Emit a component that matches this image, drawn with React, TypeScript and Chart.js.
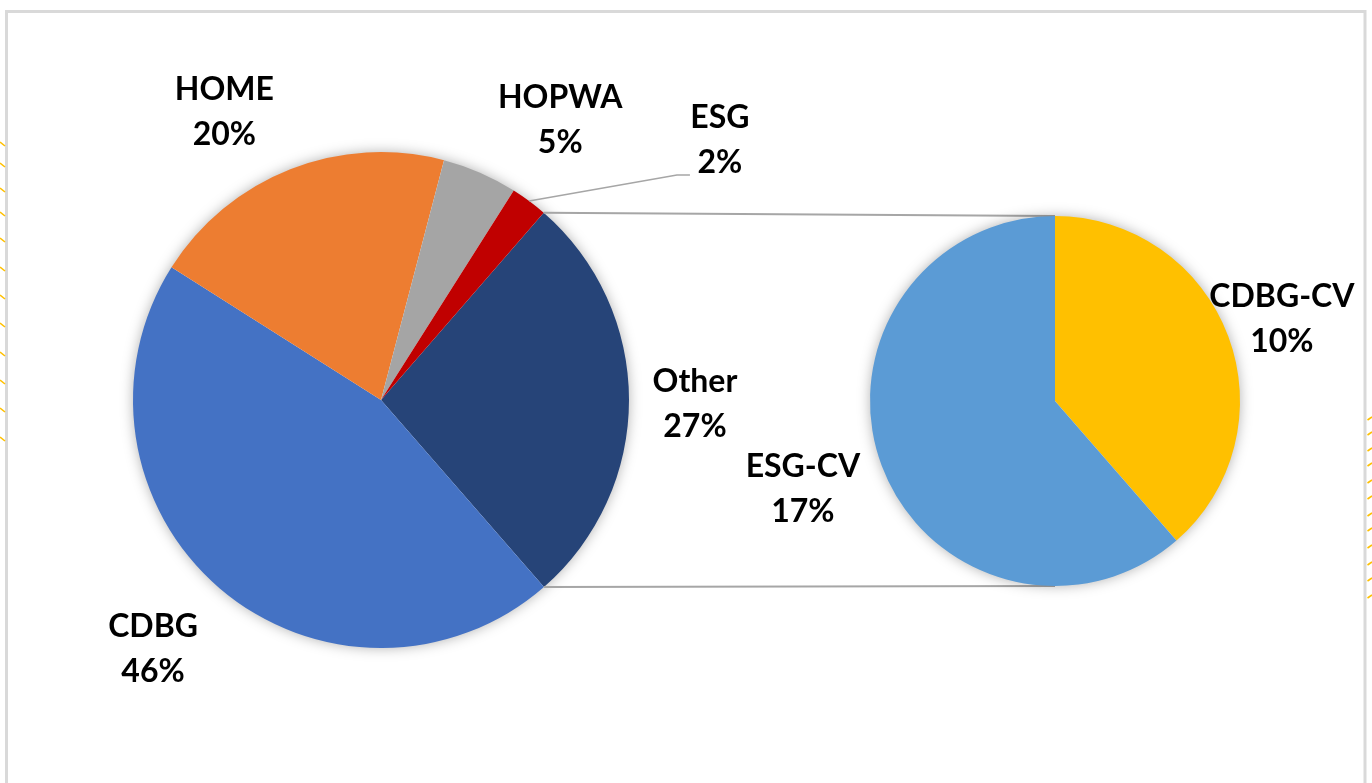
import React, { useEffect, useRef } from "react";
import { Chart, registerables } from "chart.js";

Chart.register(...registerables);

// ---- data ----
const mainCategories = ["Other", "CDBG", "HOME", "HOPWA", "ESG"];
const mainValues = [27.2, 45.4, 20.1, 4.9, 2.4];
const mainPercentLabels = ["27%", "46%", "20%", "5%", "2%"];
const mainColors = ["#264478", "#4472C4", "#ED7D31", "#A5A5A5", "#C00000"];

const subCategories = ["CDBG-CV", "ESG-CV"];
const subValues = [10.5, 16.7];
const subPercentLabels = ["10%", "17%"];
const subColors = ["#FFC000", "#5B9BD5"];

// label placement: angle (deg, from 12 o'clock clockwise) and distance (in radii)
const mainLabelAngles = [90.5, 222.6, 331.5, 32.5, 52.4];
const mainLabelDist = [1.266, 1.358, 1.324, 1.345, 1.725];
const subLabelAngles = [69.9, 250.9];
const subLabelDist = [1.306, 1.442];

// decoration tick marks at page edges
const leftMarkYs = [142, 163, 188, 212, 238, 267, 295, 323, 352, 380, 408, 437];
const rightMarkYs = [417, 432, 448, 463, 480, 496, 513, 528, 545, 562, 578, 595];

const W = 1372;
const H = 783;
const FONT = "bold 32px Lato, 'Open Sans', sans-serif";
const LINE_GAP = 45;

function pieGeom(chart: any) {
  const arc = chart.getDatasetMeta(0).data[0] as any;
  return { cx: arc.x, cy: arc.y, r: arc.outerRadius };
}

function labelPos(chart: any, angle: number, dist: number) {
  const { cx, cy, r } = pieGeom(chart);
  const a = (angle * Math.PI) / 180;
  return { x: cx + dist * r * Math.sin(a), y: cy - dist * r * Math.cos(a) };
}

function drawLabels(chart: any, names: string[], pcts: string[], angles: number[], dists: number[]) {
  const ctx = chart.ctx as CanvasRenderingContext2D;
  ctx.save();
  ctx.font = FONT;
  ctx.fillStyle = "#000000";
  ctx.textAlign = "center";
  ctx.textBaseline = "alphabetic";
  names.forEach((n, i) => {
    const p = labelPos(chart, angles[i], dists[i]);
    // baseline placed so caps are centred on the line position
    ctx.fillText(n, p.x, p.y - LINE_GAP / 2 + 11.5);
    ctx.fillText(pcts[i], p.x, p.y + LINE_GAP / 2 + 11.5);
  });
  ctx.restore();
}

function drawShadow(chart: any) {
  const ctx = chart.ctx as CanvasRenderingContext2D;
  const { cx, cy, r } = pieGeom(chart);
  ctx.save();
  ctx.shadowColor = "rgba(0,0,0,0.35)";
  ctx.shadowBlur = 14;
  ctx.shadowOffsetX = 0;
  ctx.shadowOffsetY = 0;
  ctx.fillStyle = "#ffffff";
  ctx.beginPath();
  ctx.arc(cx, cy, r - 1, 0, Math.PI * 2);
  ctx.fill();
  ctx.restore();
}

export default function App() {
  const leftRef = useRef<HTMLCanvasElement | null>(null);
  const rightRef = useRef<HTMLCanvasElement | null>(null);

  useEffect(() => {
    document.body.style.margin = "0";
    const leftCanvas = leftRef.current!;
    const rightCanvas = rightRef.current!;

    const framePlugin = {
      id: "frame",
      beforeDraw(chart: any) {
        const ctx = chart.ctx as CanvasRenderingContext2D;
        ctx.save();
        ctx.fillStyle = "#ffffff";
        ctx.fillRect(0, 0, W, H);
        ctx.strokeStyle = "#d9d9d9";
        ctx.lineWidth = 3;
        ctx.strokeRect(6.5, 11.5, 1358.5, 900);
        ctx.strokeStyle = "#FFC000";
        ctx.lineWidth = 1.6;
        leftMarkYs.forEach((y) => {
          ctx.beginPath();
          ctx.moveTo(0, y);
          ctx.lineTo(5, y + 4);
          ctx.stroke();
        });
        rightMarkYs.forEach((y) => {
          ctx.beginPath();
          ctx.moveTo(1367.5, y + 3);
          ctx.lineTo(1372, y);
          ctx.stroke();
        });
        ctx.restore();
      },
      beforeDatasetsDraw(chart: any) {
        drawShadow(chart);
      },
      afterDatasetsDraw(chart: any) {
        drawLabels(chart, mainCategories, mainPercentLabels, mainLabelAngles, mainLabelDist);
        // leader line for ESG
        const ctx = chart.ctx as CanvasRenderingContext2D;
        const idx = mainCategories.indexOf("ESG");
        const arc = chart.getDatasetMeta(0).data[idx] as any;
        const mid = (arc.startAngle + arc.endAngle) / 2;
        const px = arc.x + arc.outerRadius * Math.cos(mid);
        const py = arc.y + arc.outerRadius * Math.sin(mid);
        const lp = labelPos(chart, mainLabelAngles[idx], mainLabelDist[idx]);
        ctx.save();
        ctx.strokeStyle = "#a6a6a6";
        ctx.lineWidth = 1.5;
        ctx.beginPath();
        ctx.moveTo(lp.x - 30, lp.y + 36);
        ctx.lineTo(lp.x - 43, lp.y + 36);
        ctx.lineTo(px, py);
        ctx.stroke();
        ctx.restore();
      },
    };

    const leftChart = new Chart(leftCanvas, {
      type: "pie",
      data: {
        labels: mainCategories,
        datasets: [
          {
            data: mainValues,
            backgroundColor: mainColors,
            borderWidth: 0,
            borderColor: "rgba(0,0,0,0)",
          },
        ],
      },
      options: {
        responsive: false,
        animation: false,
        rotation: 41.0,
        layout: { padding: { left: 133, top: 152, right: 743, bottom: 135 } },
        plugins: { legend: { display: false }, tooltip: { enabled: false } },
      },
      plugins: [framePlugin],
    } as any);

    const connectorPlugin = {
      id: "connector",
      beforeDatasetsDraw(chart: any) {
        const ctx = chart.ctx as CanvasRenderingContext2D;
        const otherArc = leftChart.getDatasetMeta(0).data[0] as any;
        const p1x = otherArc.x + otherArc.outerRadius * Math.cos(otherArc.startAngle);
        const p1y = otherArc.y + otherArc.outerRadius * Math.sin(otherArc.startAngle);
        const p2x = otherArc.x + otherArc.outerRadius * Math.cos(otherArc.endAngle);
        const p2y = otherArc.y + otherArc.outerRadius * Math.sin(otherArc.endAngle);
        const { cx, cy, r } = pieGeom(chart);
        ctx.save();
        ctx.strokeStyle = "#a6a6a6";
        ctx.lineWidth = 2;
        ctx.beginPath();
        ctx.moveTo(p1x, p1y);
        ctx.lineTo(cx, cy - r);
        ctx.moveTo(p2x, p2y);
        ctx.lineTo(cx, cy + r);
        ctx.stroke();
        ctx.restore();
        drawShadow(chart);
      },
      afterDatasetsDraw(chart: any) {
        drawLabels(chart, subCategories, subPercentLabels, subLabelAngles, subLabelDist);
      },
    };

    const rightChart = new Chart(rightCanvas, {
      type: "pie",
      data: {
        labels: subCategories,
        datasets: [
          {
            data: subValues,
            backgroundColor: subColors,
            borderWidth: 0,
            borderColor: "rgba(0,0,0,0)",
          },
        ],
      },
      options: {
        responsive: false,
        animation: false,
        rotation: 0,
        layout: { padding: { left: 870, top: 216, right: 132, bottom: 197 } },
        plugins: { legend: { display: false }, tooltip: { enabled: false } },
      },
      plugins: [connectorPlugin],
    } as any);

    let alive = true;
    (document as any).fonts?.ready?.then(() => {
      if (alive) {
        leftChart.update();
        rightChart.update();
      }
    });

    return () => {
      alive = false;
      rightChart.destroy();
      leftChart.destroy();
    };
  }, []);

  const canvasStyle: React.CSSProperties = {
    position: "absolute",
    left: 0,
    top: 0,
    width: W,
    height: H,
  };

  return (
    <div style={{ position: "fixed", left: 0, top: 0, width: W, height: H, overflow: "hidden", background: "#fff" }}>
      <canvas ref={leftRef} width={W} height={H} style={canvasStyle} />
      <canvas ref={rightRef} width={W} height={H} style={{ ...canvasStyle, pointerEvents: "none" }} />
    </div>
  );
}
